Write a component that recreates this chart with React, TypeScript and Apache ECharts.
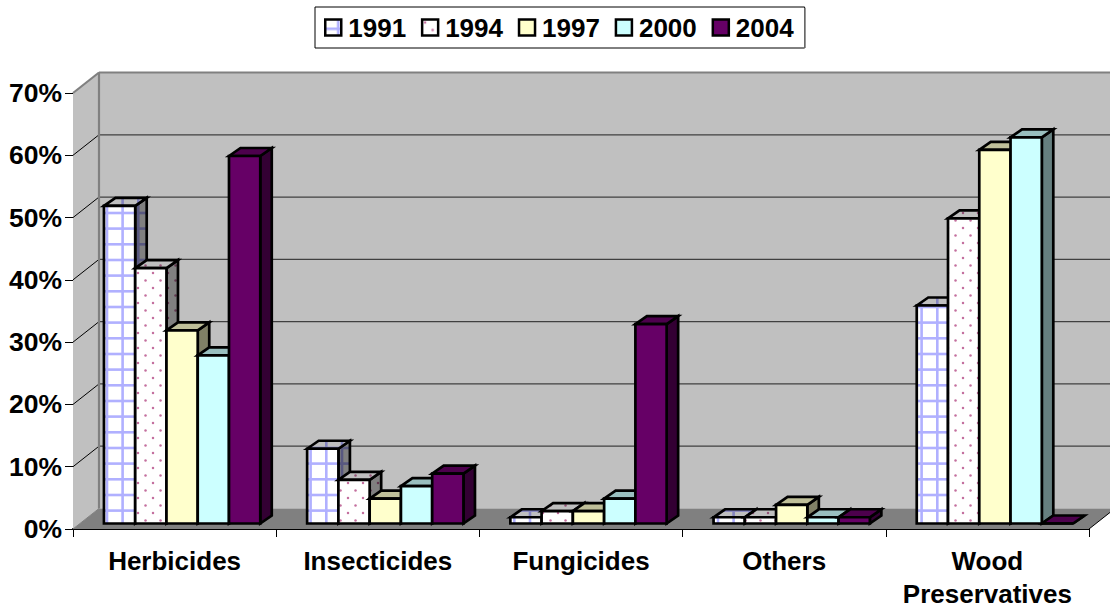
import React, { useEffect, useRef } from "react";
import * as echarts from "echarts";

const categories = ["Herbicides", "Insecticides", "Fungicides", "Others", "Wood\nPreservatives"];
const years = ["1991", "1994", "1997", "2000", "2004"];
const v1991 = [51, 12, 1, 1, 35];
const v1994 = [41, 7, 2, 1, 49];
const v1997 = [31, 4, 2, 3, 60];
const v2000 = [27, 6, 4, 1, 62];
const v2004 = [59, 8, 32, 1, 0];
const seriesValues = [v1991, v1994, v1997, v2000, v2004];
const yTicks = [0, 10, 20, 30, 40, 50, 60, 70];

const FONT = "'Liberation Sans', Arial, sans-serif";
const WALL_DX = 26;
const WALL_DY = -20.5;
const BAR_OX = 7.5;
const BAR_OY = -5.5;
const BAR_DX = 11.5;
const BAR_DY = -8;
const GAP_UNITS = 6.5;

function shadeHex(hex: string, k: number) {
  const n = parseInt(hex.slice(1), 16);
  const c = [(n >> 16) & 255, (n >> 8) & 255, n & 255].map((x) => Math.round(x * k));
  return `rgb(${c[0]},${c[1]},${c[2]})`;
}

function lattice(k: number) {
  const size = 47;
  const cv = document.createElement("canvas");
  cv.width = size;
  cv.height = size;
  const g = cv.getContext("2d")!;
  g.fillStyle = shadeHex("#ffffff", k);
  g.fillRect(0, 0, size, size);
  g.fillStyle = shadeHex("#b0b0ff", k);
  [13, 28.6, 44.3].forEach((x) => g.fillRect(x - 1.3, 0, 2.6, size));
  [9.3, 25, 40.6].forEach((y) => g.fillRect(0, y - 1.3, size, 2.6));
  return { image: cv.toDataURL(), repeat: "repeat", imageWidth: size, imageHeight: size };
}

function dots(k: number) {
  const size = 15;
  const cv = document.createElement("canvas");
  cv.width = size;
  cv.height = size;
  const g = cv.getContext("2d")!;
  g.fillStyle = shadeHex("#ffffff", k);
  g.fillRect(0, 0, size, size);
  [[3, 3], [10.5, 10.5]].forEach(([x, y]) => {
    g.fillStyle = shadeHex("#c4709f", k);
    g.beginPath();
    g.arc(x, y, 1.25, 0, Math.PI * 2);
    g.fill();
  });
  return { image: cv.toDataURL(), repeat: "repeat", imageWidth: size, imageHeight: size };
}

function faces(i: number): { front: any; top: any; side: any } {
  if (i === 0) return { front: lattice(1), top: lattice(0.75), side: lattice(0.5) };
  if (i === 1) return { front: dots(1), top: dots(0.75), side: dots(0.5) };
  const base = ["", "", "#ffffcc", "#ccffff", "#660066"][i];
  return { front: base, top: shadeHex(base, 0.75), side: shadeHex(base, 0.5) };
}

export default function App() {
  const ref = useRef<HTMLDivElement>(null);
  useEffect(() => {
    document.body.style.margin = "0";
    const chart = echarts.init(ref.current!, undefined, { renderer: "svg" });

    const poly = (points: number[][], fill: any, stroke = "#000", lineWidth = 2.7) => ({
      type: "polygon",
      shape: { points },
      style: { fill, stroke, lineWidth, lineJoin: "miter" },
    });

    const wallItem = (params: any, api: any) => {
      const cs = params.coordSys;
      const xL = cs.x;
      const xR = cs.x + cs.width;
      const top = api.coord([0, 70])[1];
      const bot = api.coord([0, 0])[1];
      const children: any[] = [
        poly(
          [[xL + WALL_DX, top + WALL_DY], [xR + WALL_DX, top + WALL_DY], [xR + WALL_DX, bot + WALL_DY], [xL + WALL_DX, bot + WALL_DY]],
          "#c0c0c0", "none", 0
        ),
        poly([[xL, top], [xL + WALL_DX, top + WALL_DY], [xL + WALL_DX, bot + WALL_DY], [xL, bot]], "#c0c0c0", "none", 0),
        poly([[xL, bot], [xL + WALL_DX, bot + WALL_DY], [xR + WALL_DX, bot + WALL_DY], [xR, bot]], "#808080", "none", 0),
      ];
      yTicks.forEach((t) => {
        const y = api.coord([0, t])[1];
        if (t > 0 && t < 70) {
          children.push({
            type: "line",
            shape: { x1: xL + WALL_DX, y1: y + WALL_DY, x2: xR + WALL_DX, y2: y + WALL_DY },
            style: { stroke: "#404040", lineWidth: 1.2 },
          });
        }
        if (t < 70) {
          children.push({
            type: "line",
            shape: { x1: xL, y1: y, x2: xL + WALL_DX, y2: y + WALL_DY },
            style: { stroke: t === 0 ? "#808080" : "#000", lineWidth: 1 },
          });
        }
      });
      const edge = { stroke: "#808080", lineWidth: 2.2 };
      children.push(
        { type: "line", shape: { x1: xL + WALL_DX, y1: top + WALL_DY, x2: xR + WALL_DX, y2: top + WALL_DY }, style: edge },
        { type: "line", shape: { x1: xL + WALL_DX, y1: top + WALL_DY, x2: xL + WALL_DX, y2: bot + WALL_DY }, style: edge },
        { type: "line", shape: { x1: xL, y1: top, x2: xL + WALL_DX, y2: top + WALL_DY }, style: edge },
        { type: "line", shape: { x1: xR, y1: bot, x2: xR + WALL_DX, y2: bot + WALL_DY }, style: { stroke: "#000", lineWidth: 1 } }
      );
      return { type: "group", children };
    };

    const barItem = (si: number, f: { front: any; top: any; side: any }) => (_p: any, api: any) => {
      const cat = api.value(0);
      const val = api.value(1);
      const [cx, yTop0] = api.coord([cat, val]);
      const y00 = api.coord([cat, 0])[1];
      const band = api.size([1, 0])[0];
      const w = band / GAP_UNITS;
      const x0 = cx - 2.5 * w + si * w + BAR_OX;
      const x1 = x0 + w;
      const yT = yTop0 + BAR_OY;
      const yB = y00 + BAR_OY;
      return {
        type: "group",
        children: [
          poly([[x1, yT], [x1 + BAR_DX, yT + BAR_DY], [x1 + BAR_DX, yB + BAR_DY], [x1, yB]], f.side),
          poly([[x0, yT], [x0 + BAR_DX, yT + BAR_DY], [x1 + BAR_DX, yT + BAR_DY], [x1, yT]], f.top),
          poly([[x0, yT], [x1, yT], [x1, yB], [x0, yB]], f.front),
        ],
      };
    };

    const option: any = {
      animation: false,
      backgroundColor: "#fff",
      textStyle: { fontFamily: FONT },
      grid: { left: 73, top: 93, width: 1016, height: 436.5, containLabel: false },
      graphic: [
        {
          type: "line",
          z: 20,
          shape: { x1: 805, y1: 8, x2: 805, y2: 48 },
          style: { stroke: "#808080", lineWidth: 1.5 },
        },
      ],
      legend: {
        data: years,
        left: 315,
        top: 7,
        padding: [7.5, 11, 7.5, 9],
        itemWidth: 16,
        itemHeight: 16,
        itemGap: 14.8,
        icon: "rect",
        backgroundColor: "#fff",
        borderColor: "#000",
        borderWidth: 1,
        itemStyle: { borderColor: "#000", borderWidth: 2.5 },
        textStyle: { fontFamily: FONT, fontWeight: "bold", fontSize: 26, color: "#000", padding: [0, 0, 0, 2] },
      },
      xAxis: {
        type: "category",
        data: categories,
        boundaryGap: true,
        axisLine: { show: true, lineStyle: { color: "#000", width: 2 } },
        axisTick: { show: true, length: 8, alignWithLabel: false, lineStyle: { color: "#000", width: 1 } },
        axisLabel: {
          interval: 0,
          margin: 15,
          fontFamily: FONT,
          fontWeight: "bold",
          fontSize: 26,
          lineHeight: 33,
          color: "#000",
        },
        splitLine: { show: false },
      },
      yAxis: {
        type: "value",
        min: 0,
        max: 70,
        interval: 10,
        axisLine: { show: true, lineStyle: { color: "#000", width: 1 } },
        axisTick: { show: true, length: 8, lineStyle: { color: "#000", width: 1 } },
        axisLabel: {
          formatter: "{value}%",
          margin: 11,
          fontFamily: FONT,
          fontWeight: "bold",
          fontSize: 26.5,
          color: "#000",
        },
        splitLine: { show: false },
      },
      series: [
        {
          name: "walls",
          type: "custom",
          data: [[0, 0]],
          encode: { x: 0, y: 1 },
          renderItem: wallItem,
          silent: true,
          z: 1,
        },
        ...years.map((y, si) => {
          const f = faces(si);
          return {
            name: y,
            type: "custom",
            data: seriesValues[si].map((v, i) => [i, v]),
            encode: { x: 0, y: 1 },
            itemStyle: { color: f.front },
            renderItem: barItem(si, f),
            z: 3,
          };
        }),
      ],
    };
    chart.setOption(option);
    return () => chart.dispose();
  }, []);
  return <div ref={ref} style={{ width: 1110, height: 610, overflow: "hidden" }} />;
}
